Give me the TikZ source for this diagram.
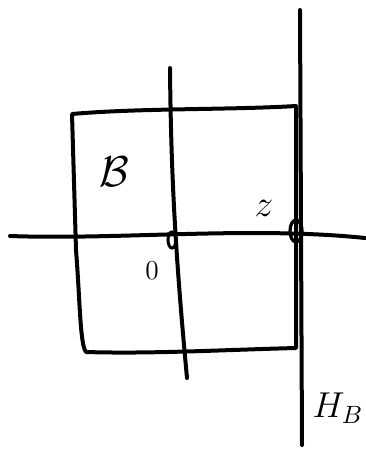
\documentclass[tikz,border=0pt]{standalone}
\usepackage{amsmath,amssymb}
\usetikzlibrary{calc}
\newcommand{\biglbl}[2]{\scalebox{#1}{#2}}

\begin{document}
\begin{tikzpicture}[x=1pt,y=-1pt,
  pen/.style={line width=4pt, line cap=round, line join=round},
  lbl/.style={font=\Large, inner sep=0pt}]
  \useasboundingbox (0,0) rectangle (365,450);

  % Axes
  \coordinate (xl) at (10,236);
  \coordinate (xr) at (365,238);
  \draw[pen] (xl) .. controls (120,240) and (250,226) .. (xr);
  \coordinate (vt) at (170,68);
  \coordinate (vb) at (187,378);
  \draw[pen] (vt) .. controls (171,180) and (176,260) .. (vb);
  \coordinate (ht) at (300,10);
  \coordinate (hb) at (302,445);
  \draw[pen] (ht) -- (hb);

  % Box B
  \coordinate (tl) at (72,114);
  \coordinate (tr) at (296,106);
  \coordinate (br) at (296,348);
  \coordinate (bl) at (86,352);
  \draw[pen] (tl) .. controls (140,108) and (230,110) .. (tr)
    -- (br) .. controls (220,350) and (150,354) .. (bl)
    .. controls (80,345) and (80,300) .. (76,250) -- cycle;

  % Marks on the axis
  \draw[line width=3pt] (172,240) ellipse (4pt and 8pt);
  \draw[line width=3.2pt] (296,231) ellipse (6pt and 11pt);

  % Labels
  \node[lbl] (setB) at (114,172) {\biglbl{3}{$\mathcal{B}$}};
  \node[lbl] (z) at (264,208) {\biglbl{2.6}{$z$}};
  \node[lbl] (orig) at (152,271) {\biglbl{1.9}{$0$}};
  \node[lbl] (hB) at (338,408) {\biglbl{2.5}{$H_B$}};
\end{tikzpicture}
\end{document}
